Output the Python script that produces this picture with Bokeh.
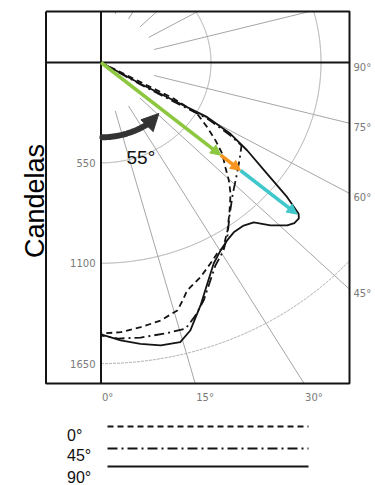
import numpy as np
from bokeh.plotting import figure
from bokeh.models import Range1d, Arrow, NormalHead
from bokeh.core.properties import value
from bokeh.embed import file_html
from bokeh.resources import INLINE

# ---------------- data ----------------
ring_cd = [550, 1100, 1650]
ring_labels = ["550", "1100", "1650"]
radial_deg = [15, 30, 45, 60, 75, 105, 120, 135, 150, 165]
radial_start_cd = 275
right_tick_deg = [90, 75, 60, 45]
right_tick_labels = ["90°", "75°", "60°", "45°"]
bottom_tick_deg = [0, 15, 30]
bottom_tick_labels = ["0°", "15°", "30°"]
y_title = "Candelas"

series_names = ["0°", "45°", "90°"]
# polar curves: angle from nadir (deg) and intensity (cd), in drawing order
deg_0 = [61, 61.5, 59.7, 56.3, 53.3, 50.5, 47.3, 44.7, 42.0, 38.4, 34.5, 31.1,
         29.0, 26.4, 22.9, 19.0, 17.4, 15.7, 11.9, 7.8, 3.8, 0]
cd_0 = [0, 413, 557, 638, 714, 786, 846, 909, 968, 1035, 1117, 1184,
        1197, 1230, 1277, 1322, 1366, 1411, 1445, 1464, 1481, 1485]
deg_45 = [60, 58.6, 59.6, 60.0, 58.3, 57.1, 52.2, 47.6, 42.1, 37.5, 33.7, 30.7,
          27.2, 24.1, 21.5, 18.8, 16.2, 12.3, 7.5, 3.3, 0]
cd_45 = [0, 231, 461, 613, 761, 837, 876, 918, 981, 1056, 1140, 1199,
         1251, 1327, 1401, 1465, 1518, 1519, 1520, 1515, 1496]
deg_90 = [60, 59.4, 60.35, 60.6, 58.9, 56.6, 53.7, 51.6, 50.0, 49.2, 47.7, 46.2,
          43.5, 41.1, 38.6, 35.5, 32.9, 30.1, 27.1, 23.7, 20.5, 16.9, 14.5, 10.9,
          7.3, 3.7, 0]
cd_90 = [0, 229, 457, 610, 756, 876, 1031, 1188, 1290, 1307, 1307, 1290,
         1231, 1162, 1143, 1143, 1161, 1191, 1237, 1323, 1421, 1535, 1583, 1579,
         1554, 1526, 1490]

beam_deg = 49.7
beam_cd = [0, 785, 915, 1285]
beam_colors = ["#8dc63f", "#f7941d", "#3fc7cc"]

tilt_label = "55°"
tilt_cd = 410
tilt_deg = [1, 37, 46]

# ---------------- layout ----------------
W, H = 375, 485
PAGE = 0
OXP, OYP = 100.5, 62.0      # pole position on the page (px)
SX, SY = 0.2, 0.1825        # px per cd, horizontal / vertical


def X(px):
    return (px - OXP) / SX


def Y(py):
    return (OYP - py) / SY


def polar(deg, cd):
    th = np.radians(np.asarray(deg, dtype=float))
    cd = np.asarray(cd, dtype=float)
    return cd * np.sin(th), -cd * np.cos(th)


p = figure(width=W, height=H,
           x_range=Range1d(X(PAGE), X(PAGE + W)),
           y_range=Range1d(Y(PAGE + H), Y(PAGE)),
           output_backend="svg", toolbar_location=None,
           x_axis_location=None, y_axis_location=None,
           min_border=0, outline_line_color=None,
           background_fill_color="white", border_fill_color="white")
p.grid.visible = False

L, R, T, B = X(45.5), X(349), Y(11), Y(383)

SANS = value("Liberation Sans")
TICKF = value("DejaVu Sans")
GRID = "#a6a6a6"
INK = "#141414"

# rings (candela circles)
t = np.linspace(0, 180, 1441)
for r in ring_cd:
    x, y = polar(t, np.full_like(t, r))
    m = (x > R) | (y > T) | (y < B)
    x[m] = np.nan
    y[m] = np.nan
    p.line(x, y, line_color=GRID, line_width=1,
           line_dash="solid" if r < 1650 else "3 1")

# radial angle lines
xs, ys = [], []
for d in radial_deg:
    th = np.radians(d)
    s, c = np.sin(th), -np.cos(th)
    ends = [R / s]
    if c < 0:
        ends.append(B / c)
    elif c > 0:
        ends.append(T / c)
    te = min(ends)
    if te > radial_start_cd:
        xs.append([radial_start_cd * s, te * s])
        ys.append([radial_start_cd * c, te * c])
p.multi_line(xs, ys, line_color=GRID, line_width=1)

# frame and main axes
p.line([L, R, R, L, L], [T, T, B, B, T], line_color=INK, line_width=2)
p.line([0, 0], [T, B], line_color=INK, line_width=2)
p.line([L, R], [0, 0], line_color=INK, line_width=2)

# tick labels
p.text([X(95)] * len(ring_cd), [-r for r in ring_cd], text=ring_labels,
       text_font=TICKF, text_font_size="10px", text_color="#7a7a7a",
       text_align="right", text_baseline="middle")
ry = []
for d in right_tick_deg:
    th = np.radians(d)
    ry.append(-R * np.cos(th) / np.sin(th) - 4.5 / SY)
p.text([R + 4 / SX] * len(ry), ry, text=right_tick_labels,
       text_font=TICKF, text_font_size="10px", text_color="#7a7a7a",
       text_align="left", text_baseline="middle")
bx = [(-B) * np.tan(np.radians(d)) + 1 / SX for d in bottom_tick_deg]
p.text(bx, [B - 14 / SY] * len(bx), text=bottom_tick_labels,
       text_font=TICKF, text_font_size="10px", text_color="#7a7a7a",
       text_align="left", text_baseline="middle")

# y title
p.text([X(34)], [Y(200.5)], text=[y_title], angle=np.pi / 2,
       text_font=SANS, text_font_size="27px", text_color="#000000",
       text_align="center", text_baseline="alphabetic")

# curves
dashes = ["6 4", "10 4 2 4", "solid"]
curves = [(deg_0, cd_0), (deg_45, cd_45), (deg_90, cd_90)]
for (dg, cd), dash in zip(curves, dashes):
    x, y = polar(dg, cd)
    p.line(x, y, line_color=INK, line_width=1.8, line_dash=dash,
           line_join="round")

# beam arrows
for i, col in enumerate(beam_colors):
    x0, y0 = polar([beam_deg], [beam_cd[i]])
    x1, y1 = polar([beam_deg], [beam_cd[i + 1]])
    p.add_layout(Arrow(x_start=float(x0[0]), y_start=float(y0[0]),
                       x_end=float(x1[0]), y_end=float(y1[0]),
                       line_color=col, line_width=3.5,
                       end=NormalHead(size=10, fill_color=col, line_color=col,
                                      line_width=1)))

# tilt arc arrow
ta = np.linspace(tilt_deg[0], tilt_deg[1] + 2, 60)
ax_, ay_ = polar(ta, np.full_like(ta, tilt_cd))
p.line(ax_, ay_, line_color="#333333", line_width=6, line_cap="round")
hx0, hy0 = polar([tilt_deg[1]], [tilt_cd])
hx1, hy1 = polar([tilt_deg[2]], [tilt_cd - 8])
p.add_layout(Arrow(x_start=float(hx0[0]), y_start=float(hy0[0]),
                   x_end=float(hx1[0]), y_end=float(hy1[0]),
                   line_color="#333333", line_width=6,
                   end=NormalHead(size=17, fill_color="#333333",
                                  line_color="#333333", line_width=1)))
p.text([X(126)], [Y(157)], text=[tilt_label], text_font=SANS,
       text_font_size="19px", text_color="#111111",
       text_align="left", text_baseline="alphabetic")

# legend
leg_line_py = [426, 448, 466]
leg_text_py = [435, 455, 477]
for name, dash, lpy, tpy in zip(series_names, dashes, leg_line_py, leg_text_py):
    p.line([X(107), X(308)], [Y(lpy), Y(lpy)], line_color=INK,
           line_width=1.8, line_dash=dash)
    p.text([X(66.5)], [Y(tpy)], text=[name], text_font=SANS,
           text_font_size="16px", text_color="#111111",
           text_align="left", text_baseline="alphabetic")

open("out.html", "w").write(file_html(p, INLINE))
